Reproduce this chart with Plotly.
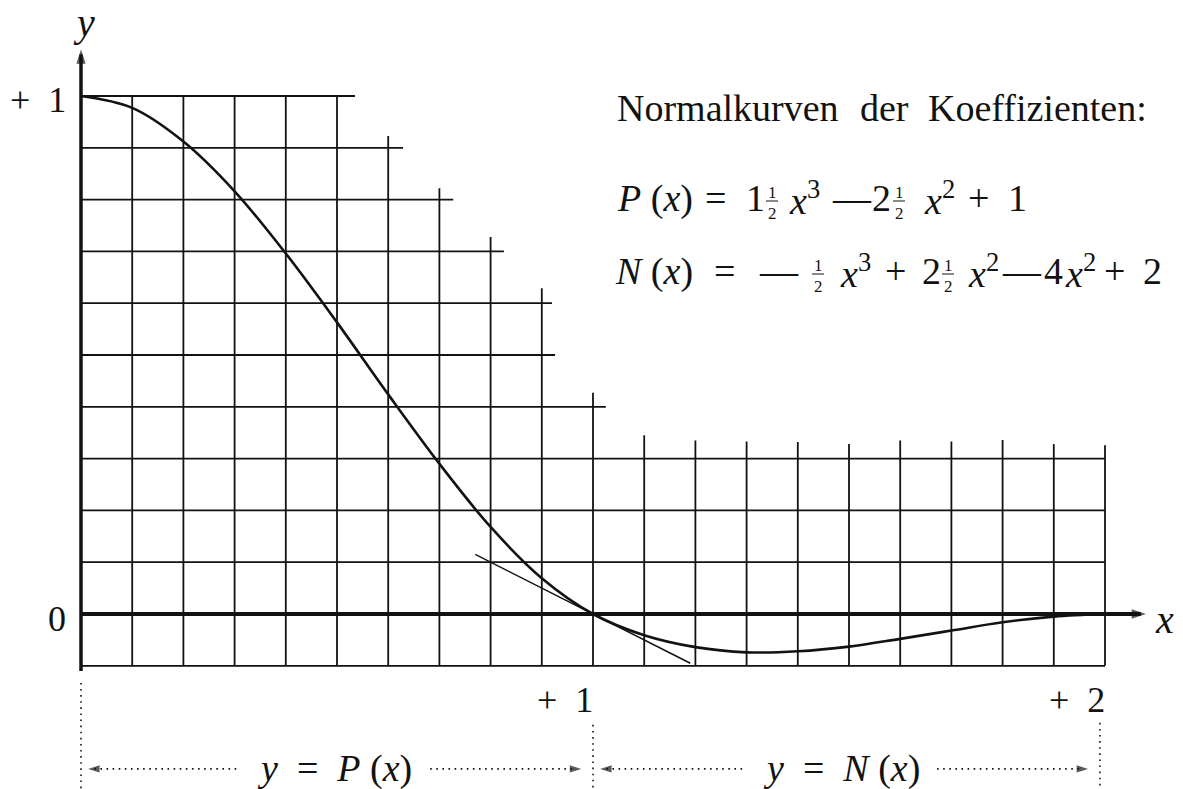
import plotly.graph_objects as go

# ---------------- data ----------------
# normal curve P(x) on [0, 1]
x_p = [0.0, 0.1, 0.2, 0.3, 0.4, 0.5, 0.6, 0.7, 0.8, 0.9, 1.0]
y_p = [1.000, 0.977, 0.912, 0.816, 0.696, 0.563, 0.424, 0.290, 0.168, 0.069, 0.000]
# normal curve N(x) on [1, 2]
x_n = [1.0, 1.1, 1.2, 1.3, 1.4, 1.5, 1.6, 1.7, 1.8, 1.9, 2.0]
y_n = [0.000, -0.041, -0.064, -0.074, -0.072, -0.063, -0.048, -0.032, -0.016, -0.005, 0.000]

# tangent at x = 1
tangent_x = [0.77, 1.19]
tangent_y = [0.115, -0.095]

# staircase grid: horizontal rows (level, right end) and vertical columns (position, top)
row_levels = [1.0, 0.9, 0.8, 0.7, 0.6, 0.5, 0.4, 0.3, 0.2, 0.1, -0.1]
row_ends = [0.535, 0.629, 0.727, 0.826, 0.920, 0.926, 1.025, 2.0, 2.0, 2.0, 2.0]
col_positions = [0.1, 0.2, 0.3, 0.4, 0.5, 0.6, 0.7, 0.8, 0.9, 1.0,
                 1.1, 1.2, 1.3, 1.4, 1.5, 1.6, 1.7, 1.8, 1.9, 2.0]
col_tops = [1.0, 1.0, 1.0, 1.0, 1.0, 0.923, 0.822, 0.728, 0.629, 0.427,
            0.345, 0.335, 0.333, 0.332, 0.328, 0.335, 0.333, 0.336, 0.328, 0.326]
grid_bottom = -0.1

axis_x_end = 2.08
axis_y_top = 1.09
axis_y_bottom = -0.11

y_tick_vals = [1.0, 0.0]
y_tick_text = ["+ 1", "0"]
x_tick_vals = [1.0, 2.0]
x_tick_text = ["+ 1", "+ 2"]

# bottom brackets
span_marks = [0.0, 1.0, 1.99]
span_mark_tops = [-0.133, -0.214, -0.21]
span_starts = [0.014, 1.014]
span_ends = [0.977, 1.967]
gap_starts = [0.31, 1.30]
gap_ends = [0.682, 1.672]
span_labels = ["<i>y</i>\u00a0\u00a0=\u00a0\u00a0<i>P</i>\u00a0(<i>x</i>)",
               "<i>y</i>\u00a0\u00a0=\u00a0\u00a0<i>N</i>\u00a0(<i>x</i>)"]
span_row = -0.299

title_words = ["Normalkurven", "der", "Koeffizienten:"]

# ---------------- geometry helpers (pixel -> data) ----------------
W, H = 1183, 789
X0, XS = 81.0, 512.0   # pixel of x=0, pixels per unit
Y0, YS = 614.0, 518.0  # pixel of y=0, pixels per unit


def dx(px):
    return (px - X0) / XS


def dy(py):
    return (Y0 - py) / YS


INK = "#121212"
FONT = "Liberation Serif"

fig = go.Figure()


def line(xs, ys, width, dash=None, shape="linear"):
    fig.add_trace(go.Scatter(x=xs, y=ys, mode="lines",
                             line=dict(color=INK, width=width, dash=dash, shape=shape,
                                       smoothing=1.0 if shape == "spline" else None),
                             hoverinfo="skip", showlegend=False))


def head(x_from, y_from, x_tip, y_tip, size):
    # arrowhead marker at the tip, oriented along the segment
    fig.add_trace(go.Scatter(x=[x_from, x_tip], y=[y_from, y_tip], mode="markers",
                             marker=dict(symbol="arrow", size=[0, size], color=INK,
                                         angleref="previous", line=dict(width=0)),
                             hoverinfo="skip", showlegend=False))


# grid rows
gx, gy = [], []
for lvl, end in zip(row_levels, row_ends):
    gx += [0.0, end, None]
    gy += [lvl, lvl, None]
line(gx, gy, 1.8)
# grid columns
cx, cy = [], []
for pos, top in zip(col_positions, col_tops):
    cx += [pos, pos, None]
    cy += [grid_bottom, top, None]
line(cx, cy, 1.8)

# axes
line([0.0, axis_x_end - 0.01], [0.0, 0.0], 4)
line([0.0, 0.0], [axis_y_bottom, axis_y_top - 0.01], 3.5)
head(axis_x_end - 0.05, 0.0, axis_x_end, 0.0, 15)
head(0.0, axis_y_top - 0.05, 0.0, axis_y_top, 15)

# tangent
line(tangent_x, tangent_y, 1.5)

# curve
line(x_p + x_n[1:], y_p + y_n[1:], 2.6, shape="spline")

# bottom dotted marks and arrows
DOT = "1.6px,4.5px"
for xm, top in zip(span_marks, span_mark_tops):
    line([xm, xm], [top, -0.34], 1.6, dash=DOT)
for s, e, g0, g1 in zip(span_starts, span_ends, gap_starts, gap_ends):
    line([s + 0.012, g0, None, g1, e - 0.012],
         [span_row, span_row, None, span_row, span_row], 1.6, dash=DOT)
    head(s + 0.03, span_row, s, span_row, 12)
    head(e - 0.03, span_row, e, span_row, 12)

annotations = []


def text(px, py, s, size=36, anchor="left"):
    annotations.append(dict(x=dx(px), y=dy(py), xref="x", yref="y", text=s,
                            showarrow=False, xanchor=anchor, yanchor="middle",
                            font=dict(family=FONT, size=size, color=INK)))


# axis labels
text(84, 22, "<i>y</i>", 40, "center")
text(1164, 619, "<i>x</i>", 40, "center")
# y tick labels
for v, t in zip(y_tick_vals, y_tick_text):
    annotations.append(dict(x=dx(68), y=v, xref="x", yref="y",
                            text=t.replace(" ", "\u00a0\u00a0"),
                            showarrow=False, xanchor="right", yanchor="middle",
                            yshift=-4 if v > 0.5 else -5,
                            font=dict(family=FONT, size=36, color=INK)))
# x tick labels
for v, t in zip(x_tick_vals, x_tick_text):
    annotations.append(dict(x=v, y=dy(700), xref="x", yref="y",
                            text=t.replace(" ", "\u00a0\u00a0"),
                            showarrow=False, xanchor="right", yanchor="middle", xshift=2,
                            font=dict(family=FONT, size=36, color=INK)))
# bottom span labels
for g0, g1, lab in zip(gap_starts, gap_ends, span_labels):
    annotations.append(dict(x=(g0 + g1) / 2, y=span_row, xref="x", yref="y", text=lab,
                            showarrow=False, xanchor="center", yanchor="middle",
                            font=dict(family=FONT, size=38, color=INK)))

# title
for w, px in zip(title_words, [615, 858, 926]):
    text(px, 108, w, 38)

shapes = []


def frac(cx, base):
    text(cx, base - 18, "1", 17, "center")
    text(cx, base + 3, "2", 17, "center")
    shapes.append(dict(type="line", xref="x", yref="y", x0=dx(cx - 6), x1=dx(cx + 6),
                       y0=dy(base - 9), y1=dy(base - 9), line=dict(color=INK, width=1)))


# P row
pb = 210
for s, px in [("<i>P</i>\u00a0(<i>x</i>)", 615), ("=", 703), ("1", 744),
              ("<i>x</i><sup>3</sup>", 787), ("\u2014", 830), ("2", 870),
              ("<i>x</i><sup>2</sup>", 922), ("+", 966), ("1", 1006)]:
    text(px, pb - 12, s, 38)
frac(772, pb)
frac(899, pb)

# N row
nb = 283
for s, px in [("<i>N</i>\u00a0(<i>x</i>)", 613), ("=", 712), ("\u2014", 757),
              ("<i>x</i><sup>3</sup>", 838), ("+", 883), ("2", 920),
              ("<i>x</i><sup>2</sup>", 966), ("\u2014", 1000), ("4", 1042),
              ("<i>x</i><sup>2</sup>", 1063), ("+", 1102), ("2", 1141)]:
    text(px, nb - 12, s, 38)
frac(818, nb)
frac(948, nb)

fig.update_layout(
    width=W, height=H,
    margin=dict(l=0, r=0, t=0, b=0),
    paper_bgcolor="white", plot_bgcolor="white",
    xaxis=dict(range=[dx(0), dx(W)], visible=False, fixedrange=True),
    yaxis=dict(range=[dy(H), dy(0)], visible=False, fixedrange=True),
    annotations=annotations,
    shapes=shapes,
    showlegend=False,
    font=dict(family=FONT),
)

fig.write_html("out.html", config={"displayModeBar": False},
               post_script="document.body.style.margin='0';")
